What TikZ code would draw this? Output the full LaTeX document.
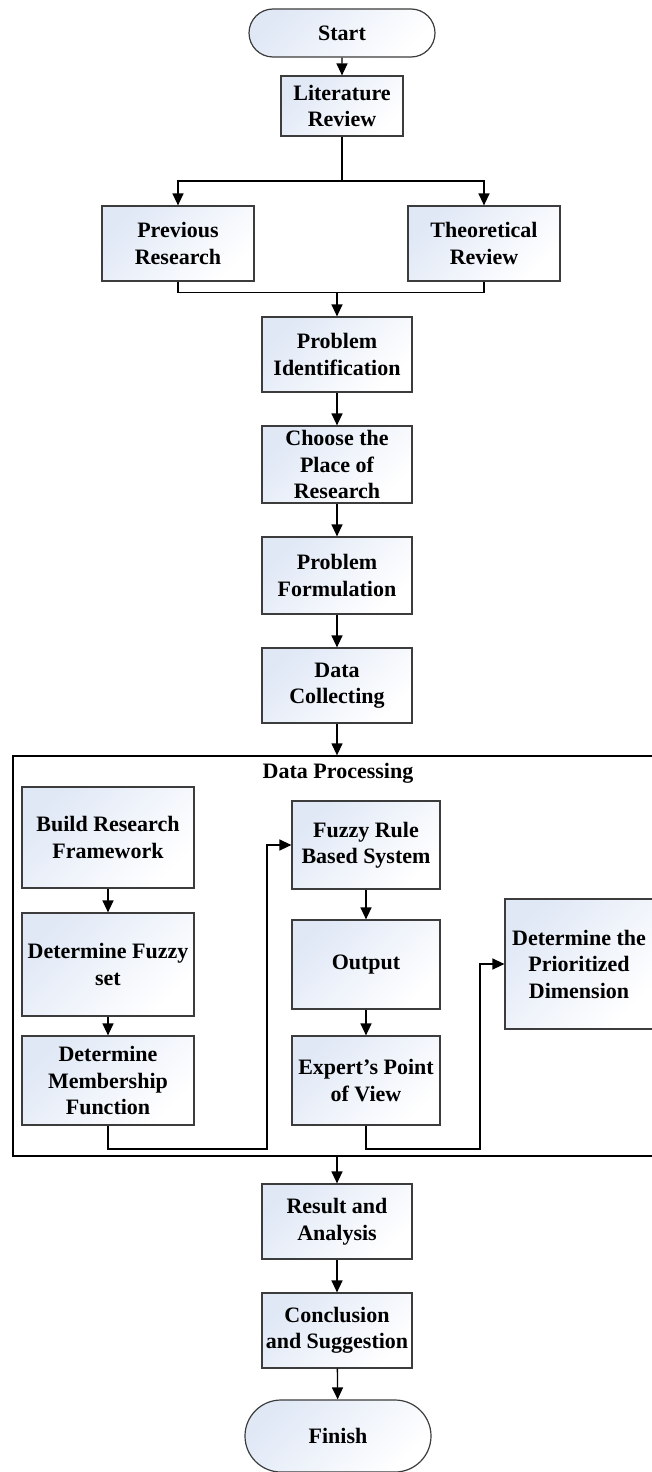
\documentclass[tikz,border=0pt]{standalone}
\usepackage{fontspec}
\setmainfont{Liberation Serif}
\usetikzlibrary{arrows.meta,shapes.misc,calc}
\definecolor{boxedge}{RGB}{60,60,60}
\definecolor{boxtint}{RGB}{224,232,246}
\begin{document}
\begin{tikzpicture}[x=1pt,y=-1pt,
  txt/.style={font=\fontsize{22}{26.5}\selectfont\bfseries, align=center, inner sep=1pt},
  procbox/.style={txt, draw=boxedge, line width=1.2pt, rectangle,
    top color=boxtint, bottom color=white, shading angle=45},
  termbox/.style={procbox, rounded rectangle},
  link/.style={draw=black, line width=1.3pt},
  arr/.style={link, -{Triangle[length=12pt,width=11pt]}}
]
\useasboundingbox (0,0) rectangle (652,1472);

% main column
\node[termbox, minimum width=188pt, minimum height=48pt] (start) at (342,33) {Start};
\node[procbox, minimum width=122pt, minimum height=60pt] (lit) at (342,106) {Literature\\Review};
\node[procbox, minimum width=152pt, minimum height=75pt] (prev) at (178,243.5) {Previous\\Research};
\node[procbox, minimum width=152pt, minimum height=75pt] (theo) at (484,243.5) {Theoretical\\Review};
\node[procbox, minimum width=150pt, minimum height=75pt] (probid) at (337,354.5) {Problem\\Identification};
\node[procbox, minimum width=150pt, minimum height=77pt] (choose) at (337,464.5) {Choose the\\Place of\\Research};
\node[procbox, minimum width=150pt, minimum height=77pt] (form) at (337,575.5) {Problem\\Formulation};
\node[procbox, minimum width=150pt, minimum height=75pt] (collect) at (337,685.5) {Data\\Collecting};

% data processing frame
\node[draw=black, line width=1.3pt, minimum width=640pt, minimum height=400pt, inner sep=0pt] (dp) at (333,956) {};
\node[txt] (dptitle) at (338,773) {Data Processing};

\node[procbox, minimum width=172pt, minimum height=101pt] (build) at (108,837.5) {Build Research\\Framework};
\node[procbox, minimum width=172pt, minimum height=103pt] (fset) at (108,964.5) {Determine Fuzzy\\set};
\node[procbox, minimum width=172pt, minimum height=89pt] (member) at (108,1080.5) {Determine\\Membership\\Function};
\node[procbox, minimum width=148pt, minimum height=88pt] (rule) at (366,845) {Fuzzy Rule\\Based System};
\node[procbox, minimum width=148pt, minimum height=89pt] (output) at (366,964.5) {Output};
\node[procbox, minimum width=148pt, minimum height=89pt] (expert) at (366,1080.5) {Expert’s Point\\of View};
\node[procbox, minimum width=148pt, minimum height=130pt] (prior) at (579,964) {Determine the\\Prioritized\\Dimension};

\node[procbox, minimum width=150pt, minimum height=75pt] (result) at (337,1221.5) {Result and\\Analysis};
\node[procbox, minimum width=150pt, minimum height=75pt] (concl) at (337,1330.5) {Conclusion\\and Suggestion};
\node[termbox, minimum width=188pt, minimum height=72pt] (finish) at (338,1436) {Finish};

% connectors
\coordinate (split) at (342,181);
\coordinate (join) at (337,292);
\draw[arr] (start) -- (lit);
\draw[link] (lit) -- (split);
\draw[arr] (split) -| (prev);
\draw[arr] (split) -| (theo);
\draw[link] (prev.south) -- ++(0,11) -| (theo.south);
\draw[arr] (join) -- (probid);
\draw[arr] (probid) -- (choose);
\draw[arr] (choose) -- (form);
\draw[arr] (form) -- (collect);
\draw[arr] (collect) -- (collect.south |- dp.north);
\draw[arr] (result.north |- dp.south) -- (result);
\draw[arr] (result) -- (concl);
\draw[arr] (concl) -- (finish);

\draw[arr] (build) -- (fset);
\draw[arr] (fset) -- (member);
\draw[arr] (rule) -- (output);
\draw[arr] (output) -- (expert);

\coordinate (bendA) at (267,1149);
\coordinate (bendB) at (480,1149);
\draw[arr] (member.south) |- (bendA) |- (rule.west);
\draw[arr] (expert.south) |- (bendB) |- (prior.west);
\end{tikzpicture}
\end{document}
